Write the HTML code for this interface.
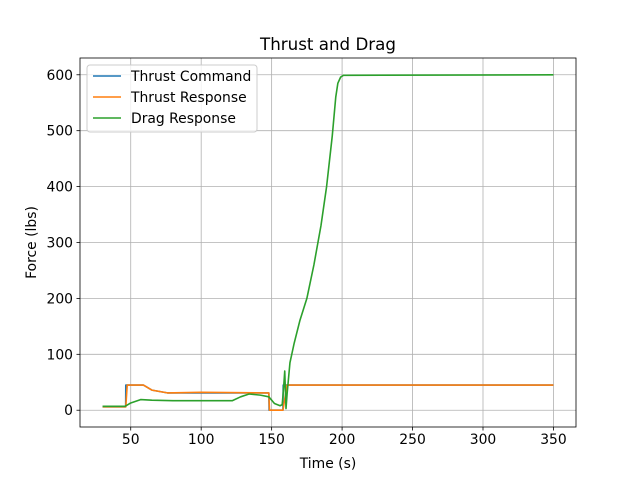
<!DOCTYPE html>
<html><head><meta charset="utf-8"><style>
body{margin:0;background:#fff}
svg text{font-family:"DejaVu Sans","Liberation Sans",sans-serif;fill:#000}
</style></head><body>
<svg id="chart" width="640" height="480" xmlns="http://www.w3.org/2000/svg">
<rect width="640" height="480" fill="#fff"/>
<g id="grid"></g><g id="series"></g><g id="axes"></g>
</svg>
<script>
const xTicks=[50,100,150,200,250,300,350];
const yTicks=[0,100,200,300,400,500,600];
const thrustCmdX=[30,46.4,46.5,59,65,76,148,148.2,158,158.2,350];
const thrustCmdY=[6,6,45,45,36,31,31,0,0,45,45];
const thrustRespX=[30,46.5,47.5,59,65,76,100,148,148.5,158,161,350];
const thrustRespY=[6,6,45,45,36,31,32,31,0,0,45,45];
const dragX=[30,46,50,57,65,80,122,128,134,142,148,152,156,157.5,158.5,159.3,160.2,161,163,166,170,175,180,185,189,193,195.5,197,199,201,350];
const dragY=[7,7,13,19,18,17,17,24,29,27,24,12,8,10,40,70,3,30,85,120,160,200,260,330,400,490,560,585,596,599,600];
const L=80,R=576,T=58,B=427,xmin=14,xmax=366,ymin=-30,ymax=630;
const sx=v=>L+(v-xmin)/(xmax-xmin)*(R-L), sy=v=>B-(v-ymin)/(ymax-ymin)*(B-T);
const NS="http://www.w3.org/2000/svg";
function mk(tag,attrs,parent,text){const e=document.createElementNS(NS,tag);for(const k in attrs)e.setAttribute(k,attrs[k]);if(text!==undefined)e.textContent=text;document.getElementById(parent)?document.getElementById(parent).appendChild(e):parent.appendChild(e);return e;}
xTicks.forEach(t=>{const x=sx(t);
 const g=mk('line',{x1:x,x2:x,y1:T,y2:B,stroke:'#b0b0b0','stroke-width':0.8},'grid');
 
 
 mk('line',{x1:x,x2:x,y1:B,y2:B+3.5,stroke:'#000','stroke-width':0.8},'axes');
 const tx=mk('text',{x:x,y:B+17,'text-anchor':'middle','font-size':'13.9px'},'axes',t);
 
 });
yTicks.forEach(t=>{const y=sy(t);
 const g=mk('line',{x1:L,x2:R,y1:y,y2:y,stroke:'#b0b0b0','stroke-width':0.8},'grid');
 
 
 mk('line',{x1:L-3.5,x2:L,y1:y,y2:y,stroke:'#000','stroke-width':0.8},'axes');
 const tx=mk('text',{x:L-7,y:y+5,'text-anchor':'end','font-size':'13.9px'},'axes',t);
 
 });
function line(xs,ys,c,name){const p=mk('polyline',{points:xs.map((v,i)=>sx(v)+','+sy(ys[i])).join(' '),fill:'none',stroke:c,'stroke-width':1.6,'stroke-linejoin':'round'},'series');
 
 }
line(thrustCmdX,thrustCmdY,'#1f77b4','thrust-command-line');
line(thrustRespX,thrustRespY,'#ff7f0e','thrust-response-line');
line(dragX,dragY,'#2ca02c','drag-response-line');
const fr=mk('rect',{x:L,y:T,width:R-L,height:B-T,fill:'none',stroke:'#000','stroke-width':0.8},'axes');


const ti=mk('text',{x:(L+R)/2,y:T-8,'text-anchor':'middle','font-size':'16.7px'},'axes','Thrust and Drag');


const xl=mk('text',{x:(L+R)/2,y:468,'text-anchor':'middle','font-size':'13.9px'},'axes','Time (s)');


const yl=mk('text',{x:0,y:0,'text-anchor':'middle','font-size':'13.9px',transform:'translate(36,'+((T+B)/2)+') rotate(-90)'},'axes','Force (lbs)');


const lg=mk('g',{},'axes');


mk('rect',{x:87,y:65,width:170,height:67,rx:3,fill:'#fff','fill-opacity':0.8,stroke:'#ccc'},lg);
[['Thrust Command','#1f77b4'],['Thrust Response','#ff7f0e'],['Drag Response','#2ca02c']].forEach((e,i)=>{
 const y=76+i*21;const g=mk('g',{},lg);
 
 
 mk('line',{x1:93,x2:121,y1:y,y2:y,stroke:e[1],'stroke-width':1.5},g);
 mk('text',{x:131,y:y+5,'font-size':'13.9px'},g,e[0]);});
</script>
</body></html>
